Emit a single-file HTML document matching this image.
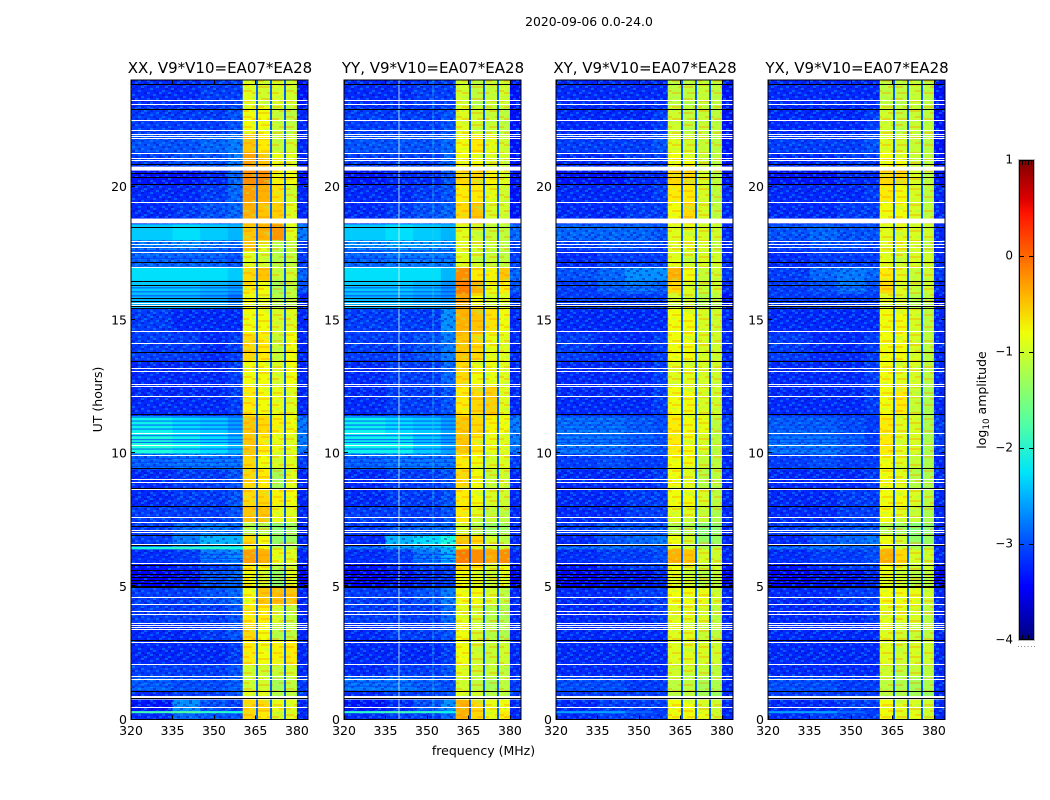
<!DOCTYPE html>
<html lang="en">
<head>
<meta charset="utf-8">
<title>2020-09-06 0.0-24.0</title>
<style>
html,body{margin:0;padding:0;background:#fff;}
body{width:1050px;height:800px;overflow:hidden;}
svg{display:block;}
text{font-family:"DejaVu Sans","Liberation Sans",sans-serif;fill:#000;}
</style>
</head>
<body>
<svg id="chart" xmlns="http://www.w3.org/2000/svg" width="1050" height="800" viewBox="0 0 1050 800">
  <defs>
    <linearGradient id="jet-gradient" x1="0" y1="1" x2="0" y2="0"></linearGradient>
    <pattern id="speckle-low" patternUnits="userSpaceOnUse" width="42" height="26">
      <path fill="#0000a8" opacity=".38" d="M0 0h3v2h-3zM9 0h3v2h-3zM21 0h3v2h-3zM33 0h3v2h-3zM6 2h3v2h-3zM15 2h3v2h-3zM27 2h3v2h-3zM39 2h3v2h-3zM3 4h3v2h-3zM18 4h3v2h-3zM30 4h3v2h-3zM12 6h3v2h-3zM24 6h3v2h-3zM36 6h3v2h-3zM0 8h3v2h-3zM9 8h3v2h-3zM21 8h3v2h-3zM33 8h3v2h-3zM6 10h3v2h-3zM15 10h3v2h-3zM39 10h3v2h-3zM27 12h3v2h-3zM3 12h3v2h-3zM18 14h3v2h-3zM30 14h3v2h-3zM9 14h3v2h-3zM36 16h3v2h-3zM0 16h3v2h-3zM24 18h3v2h-3zM12 18h3v2h-3zM6 20h3v2h-3zM33 20h3v2h-3zM15 22h3v2h-3zM27 22h3v2h-3zM39 22h3v2h-3zM3 24h3v2h-3zM21 24h3v2h-3z"/>
      <path fill="#10a8ff" opacity=".42" d="M3 0h3v2h-3zM27 0h3v2h-3zM39 0h3v2h-3zM12 2h3v2h-3zM21 2h3v2h-3zM33 4h3v2h-3zM9 4h3v2h-3zM24 4h3v2h-3zM0 6h3v2h-3zM18 6h3v2h-3zM30 8h3v2h-3zM39 8h3v2h-3zM15 8h3v2h-3zM3 10h3v2h-3zM24 10h3v2h-3zM12 12h3v2h-3zM36 12h3v2h-3zM21 14h3v2h-3zM0 14h3v2h-3zM33 14h3v2h-3zM6 16h3v2h-3zM27 16h3v2h-3zM15 18h3v2h-3zM39 18h3v2h-3zM30 20h3v2h-3zM9 20h3v2h-3zM21 20h3v2h-3zM0 22h3v2h-3zM24 24h3v2h-3zM36 24h3v2h-3zM12 24h3v2h-3z"/>
    </pattern>
    <pattern id="speckle-band" patternUnits="userSpaceOnUse" width="42" height="26">
      <path fill="#ff9000" opacity=".34" d="M0 2h12v2h-12zM21 2h9v2h-9zM6 8h15v2h-15zM27 6h12v2h-12zM0 14h9v2h-9zM15 14h12v2h-12zM33 12h9v2h-9zM9 20h12v2h-12zM27 22h15v2h-15z"/>
      <path fill="#90ff70" opacity=".32" d="M15 0h6v2h-6zM33 2h6v2h-6zM0 6h3v2h-3zM24 10h6v2h-6zM36 10h3v2h-3zM3 12h3v2h-3zM30 16h3v2h-3zM0 18h6v2h-6zM24 18h3v2h-3zM12 24h9v2h-9z"/>
    </pattern>
  </defs>
  <text x="589" y="26" font-size="12.4" text-anchor="middle">2020-09-06 0.0-24.0</text>
  <text x="483.5" y="755" font-size="12.5" text-anchor="middle">frequency (MHz)</text>
  <text transform="translate(102,399.5) rotate(-90)" font-size="12.5" text-anchor="middle">UT (hours)</text>
  <text transform="translate(986,400) rotate(-90)" font-size="12.5" text-anchor="middle">log<tspan font-size="8.8" dy="3">10</tspan><tspan dy="-3"> amplitude</tspan></text>
  <g id="panels"></g>
  <g id="colorbar"></g>
</svg>
<script>
// Row edges in UT hours (shared by every panel)
const timeEdges = [0,.25,.33,.75,1.1,1.6,2.1,3,3.6,4.3,4.95,5.6,5.85,6.4,6.5,6.95,7.4,8,8.65,9.4,10,10.7,11.4,12.5,13.5,14.5,15.45,16,16.5,17,17.6,18,18.6,19.4,20.1,20.7,21.3,22,23,24];
// Column edges in MHz: four low-frequency zones, four sub-bands, upper edge
const freqEdges = [320,335,345,355,360.4,365.2,370.2,375.3,380,384];
// Narrow dropout channels between the sub-bands
const gapFreqs = [365.2,370.2,375.3];
const panelTitles = ["XX, V9*V10=EA07*EA28","YY, V9*V10=EA07*EA28","XY, V9*V10=EA07*EA28","YX, V9*V10=EA07*EA28"];
const xTickValues = [320,335,350,365,380];
const yTickValues = [0,5,10,15,20];
const colorbarTicks = [-4,-3,-2,-1,0,1];
const gapLevels = [-2.9,-2.9,-2.9,-2.9];
// Per-column colour calibration applied to the estimated levels
const columnCalibration = [-.18,-.18,-.18,-.18,0,0,.05,.1,-.18];

// log10 amplitude per row (bottom to top), per column
const xxLevels = [
[-3.0,-2.7,-2.8,-2.8,-0.6,-0.7,-1.0,-1.0,-3.0],
[-1.7,-1.6,-1.8,-1.9,-0.6,-0.7,-1.0,-1.0,-2.9],
[-3.1,-2.5,-2.8,-2.9,-0.6,-0.6,-0.9,-1.0,-3.0],
[-3.0,-2.9,-2.9,-2.8,-0.9,-0.9,-1.2,-1.2,-2.9],
[-2.7,-2.8,-2.8,-2.7,-1.0,-1.0,-1.3,-1.2,-2.9],
[-2.9,-2.9,-2.9,-2.8,-1.0,-1.0,-1.1,-1.1,-3.0],
[-3.0,-3.0,-3.0,-2.9,-0.7,-0.8,-0.8,-0.8,-3.0],
[-3.0,-3.0,-2.9,-2.8,-0.6,-0.8,-1.2,-1.2,-3.0],
[-2.9,-2.9,-2.9,-2.8,-0.7,-0.7,-1.0,-1.2,-3.0],
[-2.9,-2.9,-2.8,-2.7,-0.8,-0.5,-0.5,-0.6,-3.0],
[-3.2,-3.1,-2.8,-2.7,-0.8,-1.0,-1.4,-1.0,-3.2],
[-3.1,-3.0,-2.9,-2.8,-0.7,-0.8,-1.2,-1.1,-3.1],
[-3.0,-2.9,-2.6,-2.5,-0.3,-0.4,-0.9,-1.0,-3.0],
[-1.9,-1.8,-1.8,-1.9,-0.8,-0.8,-1.1,-1.2,-2.8],
[-2.9,-2.6,-2.3,-2.3,-0.6,-0.8,-1.4,-1.4,-3.0],
[-2.9,-2.7,-2.6,-2.7,-1.2,-1.2,-1.5,-1.4,-3.0],
[-2.9,-2.9,-2.9,-2.8,-0.5,-0.5,-0.9,-1.0,-3.0],
[-3.0,-2.9,-2.9,-2.8,-0.6,-0.6,-0.8,-0.9,-3.0],
[-3.0,-2.9,-2.9,-2.8,-0.6,-0.7,-1.3,-1.0,-3.0],
[-2.7,-2.6,-2.6,-2.6,-0.6,-0.8,-1.0,-1.0,-2.9],
[-1.9,-2.0,-2.1,-2.3,-0.5,-0.7,-0.9,-1.0,-2.6],
[-2.0,-2.1,-2.2,-2.4,-0.5,-0.6,-0.8,-0.9,-2.6],
[-3.0,-3.0,-3.0,-2.9,-0.7,-0.8,-0.9,-1.0,-3.0],
[-3.0,-3.0,-3.0,-2.9,-0.8,-0.8,-1.0,-0.9,-3.0],
[-2.9,-2.9,-3.0,-2.9,-0.6,-0.7,-1.1,-0.9,-3.0],
[-2.9,-3.0,-3.0,-3.0,-0.8,-0.8,-1.0,-1.0,-3.0],
[-2.3,-2.3,-2.4,-2.6,-0.8,-0.9,-1.2,-1.2,-3.0],
[-2.2,-2.2,-2.3,-2.4,-0.7,-0.8,-1.3,-1.2,-2.8],
[-2.1,-2.1,-2.1,-2.2,-0.6,-0.5,-1.1,-1.1,-2.7],
[-2.7,-2.7,-2.7,-2.8,-0.9,-1.0,-1.2,-1.2,-2.9],
[-2.6,-2.5,-2.6,-2.7,-0.5,-0.9,-1.2,-1.2,-2.9],
[-2.2,-2.1,-2.2,-2.3,-0.5,-0.4,-0.3,-1.0,-2.6],
[-3.0,-2.9,-2.8,-2.7,-0.4,-0.5,-0.6,-1.0,-3.0],
[-3.0,-3.0,-2.9,-2.7,-0.3,-0.4,-0.7,-1.1,-3.0],
[-3.1,-3.1,-3.0,-2.7,-0.2,-0.2,-0.8,-0.9,-3.1],
[-2.9,-2.8,-2.8,-2.6,-0.3,-0.5,-0.9,-1.0,-3.0],
[-2.8,-2.8,-2.7,-2.6,-0.5,-0.7,-1.1,-1.1,-3.0],
[-2.9,-2.9,-2.9,-2.8,-0.8,-0.8,-1.1,-1.2,-3.0],
[-3.0,-3.0,-2.9,-2.9,-0.9,-1.0,-1.0,-1.1,-3.1]
];
const yyLevels = [
[-3.0,-2.9,-2.9,-2.7,-0.4,-0.6,-0.9,-0.8,-3.0],
[-1.8,-1.7,-1.8,-2.0,-0.4,-0.6,-0.9,-0.8,-3.0],
[-3.1,-3.0,-2.8,-2.5,-0.4,-0.6,-0.9,-0.9,-3.0],
[-3.0,-2.9,-2.9,-2.8,-0.9,-1.0,-1.2,-1.2,-2.9],
[-2.6,-2.6,-2.7,-2.8,-1.0,-1.1,-1.3,-1.2,-2.9],
[-3.0,-2.9,-2.9,-2.8,-0.9,-1.0,-1.1,-1.2,-3.0],
[-3.0,-3.0,-3.0,-2.9,-0.8,-1.0,-1.1,-1.1,-3.0],
[-3.0,-2.9,-2.9,-2.8,-0.8,-1.0,-1.2,-1.3,-3.0],
[-2.9,-2.9,-2.9,-2.7,-0.9,-1.0,-1.2,-1.3,-3.0],
[-2.9,-2.9,-2.8,-2.6,-0.8,-0.8,-1.0,-1.2,-3.0],
[-3.2,-3.1,-3.0,-2.9,-0.8,-0.9,-1.1,-1.0,-3.2],
[-3.1,-3.0,-2.9,-2.9,-0.6,-0.7,-1.0,-0.9,-3.1],
[-3.0,-2.9,-2.6,-2.3,-0.1,-0.2,-0.4,-0.3,-3.0],
[-2.6,-2.5,-2.4,-2.3,-0.8,-0.9,-1.1,-1.1,-2.8],
[-3.0,-2.3,-2.1,-1.9,-0.5,-0.6,-1.0,-1.2,-3.0],
[-2.9,-2.8,-2.7,-2.7,-1.0,-1.2,-1.4,-1.4,-3.0],
[-2.9,-2.9,-2.9,-2.8,-0.7,-0.9,-1.1,-1.2,-3.0],
[-3.0,-2.9,-2.9,-2.8,-0.7,-0.8,-1.0,-1.1,-3.0],
[-3.0,-2.9,-2.9,-2.8,-0.6,-0.8,-1.1,-1.1,-3.0],
[-2.7,-2.6,-2.6,-2.6,-0.7,-0.8,-1.0,-1.0,-2.9],
[-2.0,-2.0,-2.2,-2.4,-0.5,-0.7,-0.9,-1.0,-2.6],
[-2.0,-2.1,-2.2,-2.4,-0.5,-0.6,-0.8,-0.9,-2.6],
[-3.0,-2.9,-2.9,-2.8,-0.7,-0.6,-0.6,-1.0,-3.0],
[-3.0,-2.9,-2.9,-2.7,-0.6,-0.8,-0.9,-1.0,-3.0],
[-2.9,-2.9,-2.8,-2.6,-0.5,-0.6,-0.9,-1.0,-3.0],
[-2.9,-2.9,-2.9,-2.5,-0.4,-0.5,-0.7,-0.9,-3.0],
[-2.3,-2.3,-2.4,-2.5,-0.3,-0.8,-1.0,-1.0,-2.9],
[-2.2,-2.2,-2.3,-2.5,-0.1,-0.4,-0.9,-0.8,-2.8],
[-2.1,-2.1,-2.1,-2.3,-0.2,-0.7,-0.8,-0.6,-2.7],
[-2.7,-2.6,-2.6,-2.6,-0.9,-1.0,-1.1,-1.2,-2.9],
[-2.5,-2.4,-2.4,-2.5,-0.9,-1.0,-1.1,-1.2,-2.9],
[-2.2,-2.1,-2.2,-2.3,-0.9,-1.0,-1.1,-1.2,-2.7],
[-3.0,-2.9,-2.8,-2.7,-0.6,-0.5,-1.0,-1.1,-3.1],
[-3.0,-3.0,-2.9,-2.8,-0.7,-0.7,-0.9,-1.1,-3.1],
[-3.1,-3.0,-3.0,-2.8,-0.6,-0.6,-0.8,-1.0,-3.1],
[-2.9,-2.9,-2.9,-2.7,-0.8,-0.8,-1.0,-1.1,-3.1],
[-2.8,-2.8,-2.8,-2.7,-0.8,-0.7,-0.9,-1.1,-3.1],
[-2.9,-2.9,-2.9,-2.8,-0.9,-1.0,-1.1,-1.2,-3.1],
[-3.0,-3.0,-2.9,-2.9,-1.0,-1.1,-1.1,-1.1,-3.1]
];
const xyLevels = [
[-3.0,-2.9,-2.9,-2.9,-0.8,-0.8,-0.9,-1.1,-3.0],
[-2.4,-2.4,-2.7,-2.9,-0.8,-0.8,-0.9,-1.1,-3.0],
[-3.0,-2.9,-2.9,-2.9,-0.8,-0.8,-1.0,-1.1,-3.0],
[-2.9,-2.9,-2.9,-2.9,-1.1,-1.1,-1.3,-1.4,-3.0],
[-2.8,-2.8,-2.9,-2.9,-1.1,-1.1,-1.3,-1.3,-3.0],
[-3.0,-3.0,-3.0,-3.0,-1.0,-1.0,-1.1,-1.2,-3.0],
[-3.0,-3.0,-3.0,-3.0,-0.9,-0.9,-1.0,-1.1,-3.0],
[-3.0,-3.0,-3.0,-3.0,-0.9,-0.9,-1.1,-1.2,-3.0],
[-3.0,-3.0,-3.0,-2.9,-0.9,-0.9,-1.0,-1.2,-3.0],
[-3.0,-3.0,-2.9,-2.9,-0.8,-0.8,-0.9,-1.1,-3.0],
[-3.2,-3.1,-3.1,-3.0,-0.9,-1.0,-1.2,-1.2,-3.2],
[-3.1,-3.0,-2.9,-2.9,-0.8,-0.9,-1.1,-1.1,-3.1],
[-3.0,-2.9,-2.9,-2.8,-0.4,-0.5,-1.0,-1.1,-3.0],
[-2.6,-2.6,-2.7,-2.8,-0.9,-1.0,-1.2,-1.2,-3.0],
[-3.0,-2.8,-2.7,-2.6,-0.8,-1.0,-1.4,-1.4,-3.0],
[-2.9,-2.8,-2.8,-2.8,-1.2,-1.2,-1.5,-1.5,-3.0],
[-3.0,-3.0,-2.9,-2.9,-0.9,-0.9,-1.1,-1.3,-3.0],
[-3.0,-3.0,-2.9,-2.9,-0.8,-0.8,-1.0,-1.2,-3.0],
[-3.0,-3.0,-3.0,-2.9,-0.8,-0.9,-1.2,-1.2,-3.0],
[-2.9,-2.8,-2.9,-2.9,-0.8,-0.8,-1.1,-1.2,-3.0],
[-2.6,-2.6,-2.7,-2.8,-0.7,-0.8,-1.0,-1.2,-2.9],
[-2.6,-2.6,-2.7,-2.8,-0.7,-0.8,-0.9,-1.2,-2.9],
[-3.0,-3.0,-3.0,-2.9,-0.8,-0.8,-1.0,-1.1,-3.0],
[-3.0,-3.0,-3.0,-2.9,-0.9,-0.9,-1.0,-1.1,-3.0],
[-2.9,-3.0,-3.0,-2.9,-0.8,-0.8,-1.0,-1.1,-3.0],
[-3.0,-3.0,-3.0,-3.0,-0.8,-0.8,-1.0,-1.1,-3.0],
[-2.9,-2.9,-2.9,-2.9,-1.0,-1.0,-1.2,-1.2,-3.1],
[-2.9,-2.7,-2.6,-2.7,-0.6,-0.9,-1.1,-1.1,-3.0],
[-2.8,-2.7,-2.5,-2.5,-0.4,-0.8,-1.1,-1.1,-2.9],
[-3.0,-2.9,-2.9,-2.9,-0.9,-1.0,-1.0,-1.1,-3.0],
[-2.9,-2.8,-2.8,-2.9,-0.9,-0.9,-1.0,-1.2,-3.0],
[-2.7,-2.7,-2.7,-2.8,-0.9,-0.9,-1.0,-1.1,-3.0],
[-3.0,-3.0,-2.9,-2.9,-0.8,-0.6,-1.0,-1.2,-3.0],
[-3.0,-3.0,-3.0,-2.9,-0.7,-0.7,-1.0,-1.2,-3.0],
[-3.1,-3.1,-3.0,-3.0,-0.6,-0.6,-1.0,-1.2,-3.1],
[-3.0,-3.0,-2.9,-2.9,-0.8,-0.8,-1.1,-1.2,-3.1],
[-2.9,-2.9,-2.9,-2.8,-0.9,-1.0,-1.1,-1.2,-3.1],
[-3.0,-3.0,-3.0,-2.9,-1.0,-1.1,-1.1,-1.2,-3.1],
[-3.0,-3.0,-3.0,-3.0,-1.1,-1.1,-1.1,-1.2,-3.1]
];
const yxLevels = [
[-3.0,-2.9,-2.9,-2.9,-0.8,-0.9,-0.9,-1.1,-3.0],
[-2.4,-2.4,-2.7,-2.9,-0.8,-0.9,-0.9,-1.1,-3.0],
[-3.0,-3.0,-2.9,-2.9,-0.8,-0.9,-1.0,-1.1,-3.0],
[-2.9,-2.9,-2.9,-2.9,-1.1,-1.2,-1.3,-1.4,-3.0],
[-2.8,-2.8,-2.9,-2.9,-1.1,-1.2,-1.3,-1.3,-3.0],
[-3.0,-3.0,-3.0,-3.0,-1.0,-1.1,-1.1,-1.2,-3.0],
[-3.0,-3.0,-3.0,-3.0,-0.9,-1.0,-1.0,-1.1,-3.0],
[-3.0,-3.0,-3.0,-3.0,-0.9,-1.0,-1.1,-1.2,-3.0],
[-3.0,-3.0,-3.0,-2.9,-0.9,-0.9,-1.0,-1.2,-3.0],
[-3.0,-3.0,-2.9,-2.9,-0.8,-0.8,-0.9,-1.1,-3.0],
[-3.2,-3.1,-3.1,-3.0,-0.9,-1.0,-1.2,-1.2,-3.2],
[-3.1,-3.0,-2.9,-2.9,-0.8,-0.9,-1.1,-1.1,-3.1],
[-3.0,-2.9,-2.9,-2.8,-0.4,-0.6,-1.0,-1.1,-3.0],
[-2.6,-2.6,-2.7,-2.8,-0.9,-1.0,-1.2,-1.2,-3.0],
[-3.0,-2.8,-2.7,-2.6,-0.8,-1.0,-1.4,-1.4,-3.0],
[-2.9,-2.8,-2.8,-2.8,-1.2,-1.3,-1.5,-1.5,-3.0],
[-3.0,-3.0,-2.9,-2.9,-0.8,-0.9,-1.1,-1.3,-3.0],
[-3.0,-3.0,-2.9,-2.9,-0.8,-0.8,-1.0,-1.2,-3.0],
[-3.0,-3.0,-3.0,-2.9,-0.8,-0.9,-1.2,-1.3,-3.0],
[-2.9,-2.8,-2.9,-2.9,-0.8,-0.9,-1.1,-1.3,-3.0],
[-2.6,-2.6,-2.7,-2.9,-0.7,-0.9,-1.0,-1.3,-2.9],
[-2.7,-2.7,-2.8,-2.9,-0.7,-0.9,-1.0,-1.3,-2.9],
[-3.0,-3.0,-3.0,-2.9,-0.8,-0.7,-1.1,-1.3,-3.0],
[-3.0,-3.0,-3.0,-2.9,-0.8,-0.9,-1.0,-1.2,-3.0],
[-2.9,-3.0,-3.0,-2.9,-0.8,-0.8,-1.0,-1.2,-3.0],
[-3.0,-3.0,-3.0,-3.0,-0.8,-0.8,-1.0,-1.2,-3.0],
[-2.9,-2.9,-2.9,-2.9,-0.9,-1.0,-1.2,-1.2,-3.1],
[-2.9,-2.8,-2.6,-2.8,-0.6,-0.9,-1.1,-1.1,-3.0],
[-2.9,-2.7,-2.6,-2.7,-0.7,-0.9,-1.1,-1.1,-2.9],
[-3.0,-2.9,-2.9,-2.9,-0.9,-1.0,-1.0,-1.1,-3.0],
[-2.9,-2.8,-2.8,-2.9,-0.9,-0.9,-1.0,-1.2,-3.0],
[-2.8,-2.7,-2.8,-2.8,-0.9,-0.9,-1.0,-1.1,-3.0],
[-3.0,-3.0,-2.9,-2.9,-0.8,-0.8,-1.0,-1.2,-3.0],
[-3.0,-3.0,-3.0,-2.9,-0.7,-0.8,-1.0,-1.2,-3.0],
[-3.1,-3.1,-3.0,-3.0,-0.6,-0.6,-1.0,-1.2,-3.1],
[-3.0,-3.0,-2.9,-2.9,-0.8,-0.8,-1.1,-1.2,-3.1],
[-2.9,-2.9,-2.9,-2.8,-0.9,-1.0,-1.1,-1.2,-3.1],
[-3.0,-3.0,-3.0,-2.9,-1.0,-1.1,-1.1,-1.2,-3.1],
[-3.0,-3.0,-3.0,-3.0,-1.1,-1.1,-1.1,-1.2,-3.1]
];
const panelLevels = [xxLevels,yyLevels,xyLevels,yxLevels];

// Flagged integrations, in UT hours
const whiteLineHours = [23.23,23.07,22.47,22.10,21.97,21.88,21.82,21.23,21.04,20.97,19.42,17.95,17.83,17.72,17.54,16.97,15.62,15.55,14.58,14.11,13.19,13.06,12.57,12.50,12.14,10.75,10.28,9.91,9.02,8.88,8.64,7.57,7.38,7.11,7.00,6.58,5.86,4.59,4.30,4.04,3.93,3.61,3.54,3.46,3.36,2.89,2.07,1.60,1.51,0.44];
const whiteBlockStarts = [0.75,18.62,20.60];
const whiteBlockEnds = [0.88,18.80,20.75];
const blackLineHours = [23.82,22.88,20.83,20.48,20.34,20.09,18.47,17.14,16.44,16.27,15.80,15.70,15.49,15.44,13.77,13.42,11.43,9.42,8.67,7.98,7.26,6.92,6.54,5.77,5.58,5.46,5.34,5.23,5.12,5.01,4.96,2.98,1.04,0.77];
// Dark narrow dips across the low-frequency part
const dipLineHours = [11.35,11.2,11.05,10.9,10.65,10.5,10.4,10.15,9.8,9.65,9.5,17.7,17.6,17.3,16.2,16.05,15.9,6.2,6.05,5.95,1.25,1.4];
// YY has a persistent narrow channel
const yyChannelFreqs = [339.7,352];

const NS = "http://www.w3.org/2000/svg";
const panelLeft = [131,344,556,768];
const panelWidth = 177;
const plotTop = 80;
const plotBottom = 719.5;
const freqMin = 320, freqMax = 384, hourMin = 0, hourMax = 24;

function xScale(p, f){ return panelLeft[p] + (f - freqMin) / (freqMax - freqMin) * panelWidth; }
function yScale(h){ return plotBottom - (h - hourMin) / (hourMax - hourMin) * (plotBottom - plotTop); }
function jet(v){
  const t = Math.max(0, Math.min(1, (v + 4) / 5));
  const lerp = (pts) => {
    for (let i = 1; i < pts.length; i++) {
      if (t <= pts[i][0]) {
        const a = pts[i-1], b = pts[i];
        return a[1] + (b[1]-a[1]) * (t-a[0]) / (b[0]-a[0]);
      }
    }
    return pts[pts.length-1][1];
  };
  const r = lerp([[0,0],[.35,0],[.66,1],[.89,1],[1,.5]]);
  const g = lerp([[0,0],[.125,0],[.375,1],[.64,1],[.91,0],[1,0]]);
  const b = lerp([[0,.5],[.11,1],[.34,1],[.65,0],[1,0]]);
  return "rgb(" + Math.round(r*255) + "," + Math.round(g*255) + "," + Math.round(b*255) + ")";
}
function mk(parent, tag, attrs){
  const el = document.createElementNS(NS, tag);
  for (const k in attrs) el.setAttribute(k, attrs[k]);
  parent.appendChild(el);
  return el;
}

const panelsRoot = document.getElementById("panels");
panelTitles.forEach(function(title, p){
  const g = mk(panelsRoot, "g", {});
  
  
  const levels = panelLevels[p];
  const x0 = panelLeft[p], x1 = x0 + panelWidth;
  const bandStart = xScale(p, freqEdges[4]), bandEnd = xScale(p, freqEdges[8]);

  levels.forEach(function(row, i){
    const yTop = yScale(timeEdges[i+1]), yBot = yScale(timeEdges[i]);
    row.forEach(function(v, c){
      const xa = xScale(p, freqEdges[c]), xb = xScale(p, freqEdges[c+1]);
      const cell = mk(g, "rect", {x:xa, y:yTop, width:xb-xa+.4, height:yBot-yTop+.4, fill:jet(v + columnCalibration[c])});
      
      
    });
    if (row[0] < -2.4) {
      const tex = mk(g, "rect", {x:x0, y:yTop, width:bandStart-x0, height:yBot-yTop, fill:"url(#speckle-low)"});
      
      
    }
  });

  const hiTex = mk(g, "rect", {x:bandEnd, y:plotTop, width:x1-bandEnd, height:plotBottom-plotTop, fill:"url(#speckle-low)"});
  
  
  const bandTex = mk(g, "rect", {x:bandStart, y:plotTop, width:bandEnd-bandStart, height:plotBottom-plotTop, fill:"url(#speckle-band)"});
  
  

  dipLineHours.forEach(function(h){
    const dip = mk(g, "rect", {x:x0, y:yScale(h)-.5, width:bandStart-x0, height:1, fill:jet(-3.1), opacity:.8});
    
    
  });
  gapFreqs.forEach(function(f){
    const gap = mk(g, "rect", {x:Math.round(xScale(p,f)), y:plotTop, width:2, height:plotBottom-plotTop, fill:jet(gapLevels[p])});
    
    
  });
  if (p === 1) {
    yyChannelFreqs.forEach(function(f, k){
      const ch = mk(g, "rect", {x:xScale(p,f), y:plotTop, width:1, height:plotBottom-plotTop, fill:k === 0 ? "#c8f4e8" : "#30d8d8", opacity:k === 0 ? .85 : .5});
      
      
    });
  }
  whiteLineHours.forEach(function(h){
    const ln = mk(g, "rect", {x:x0, y:Math.round(yScale(h)-.5), width:panelWidth, height:1, fill:"#fff"});
    
    
  });
  whiteBlockStarts.forEach(function(h, k){
    const yA = yScale(whiteBlockEnds[k]), yB = yScale(h);
    const bl = mk(g, "rect", {x:x0, y:yA, width:panelWidth, height:yB-yA, fill:"#fff"});
    
    
  });
  blackLineHours.forEach(function(h){
    const ln = mk(g, "rect", {x:x0, y:Math.round(yScale(h)-.5), width:panelWidth, height:1, fill:"#000"});
    
    
  });

  const frame = mk(g, "rect", {x:x0, y:plotTop, width:panelWidth, height:plotBottom-plotTop, fill:"none", stroke:"#000", "stroke-width":1});
  
  

  const ttl = mk(g, "text", {x:x0+panelWidth/2+.5, y:73, "font-size":15, "text-anchor":"middle"});
  ttl.textContent = title;
  
  

  xTickValues.forEach(function(f){
    const x = Math.round(xScale(p,f)) + .5;
    mk(g, "path", {d:"M"+x+" "+plotBottom+"v-4M"+x+" "+plotTop+"v4", stroke:"#000", "stroke-width":1, fill:"none"});
    const lb = mk(g, "text", {x:xScale(p,f), y:735, "font-size":12.5, "text-anchor":"middle"});
    lb.textContent = f;
    
    
  });
  yTickValues.forEach(function(h){
    const y = Math.round(yScale(h)) - .5;
    mk(g, "path", {d:"M"+x0+" "+y+"h4M"+x1+" "+y+"h-4", stroke:"#000", "stroke-width":1, fill:"none"});
    const lb = mk(g, "text", {x:x0-4, y:yScale(h)+4.5, "font-size":12.5, "text-anchor":"end"});
    lb.textContent = h;
    
    
  });
});

// Colour bar
const grad = document.getElementById("jet-gradient");
const gradStops = [-4,-3.75,-3.45,-3,-2.5,-2.25,-1.75,-1.2,-0.8,-0.4,0,0.45,0.6,1];
gradStops.forEach(function(v){
  mk(grad, "stop", {offset:(v+4)/5, "stop-color":jet(v)});
});
const cb = document.getElementById("colorbar");
const cbTop = 160, cbBottom = 640, cbLeft = 1019, cbRight = 1034;
function cbScale(v){ return cbBottom - (v + 4) / 5 * (cbBottom - cbTop); }
mk(cb, "rect", {x:cbLeft-.5, y:cbTop-.5, width:cbRight-cbLeft+1, height:cbBottom-cbTop+1, fill:"none", stroke:"#b8b8b8", "stroke-width":1});
const cbFill = mk(cb, "rect", {x:cbLeft+.5, y:cbTop+.5, width:cbRight-cbLeft-1, height:cbBottom-cbTop-1, fill:"url(#jet-gradient)", stroke:"#000", "stroke-width":1});


colorbarTicks.forEach(function(v){
  const y = Math.round(cbScale(v)) + .5;
  if (v > -4 && v < 1) mk(cb, "path", {d:"M"+cbLeft+" "+y+"h5M"+cbRight+" "+y+"h-5", stroke:"#000", "stroke-width":1, fill:"none"});
  const lb = mk(cb, "text", {x:1013, y:cbScale(v)+3.5, "font-size":12, "text-anchor":"end"});
  lb.textContent = v < 0 ? "\u2212" + Math.abs(v) : String(v);
  
  
});
[1,2,3,4].forEach(function(k){
  const x = cbLeft + k * 3 + .5;
  mk(cb, "path", {d:"M"+x+" "+cbTop+"v5M"+x+" "+cbBottom+"v-5", stroke:"#000", "stroke-width":1, fill:"none"});
});
const dots = mk(cb, "text", {x:1017.5, y:647, "font-size":6, fill:"#888", "letter-spacing":"1.3"});
dots.textContent = "......";


</script>
</body>
</html>
